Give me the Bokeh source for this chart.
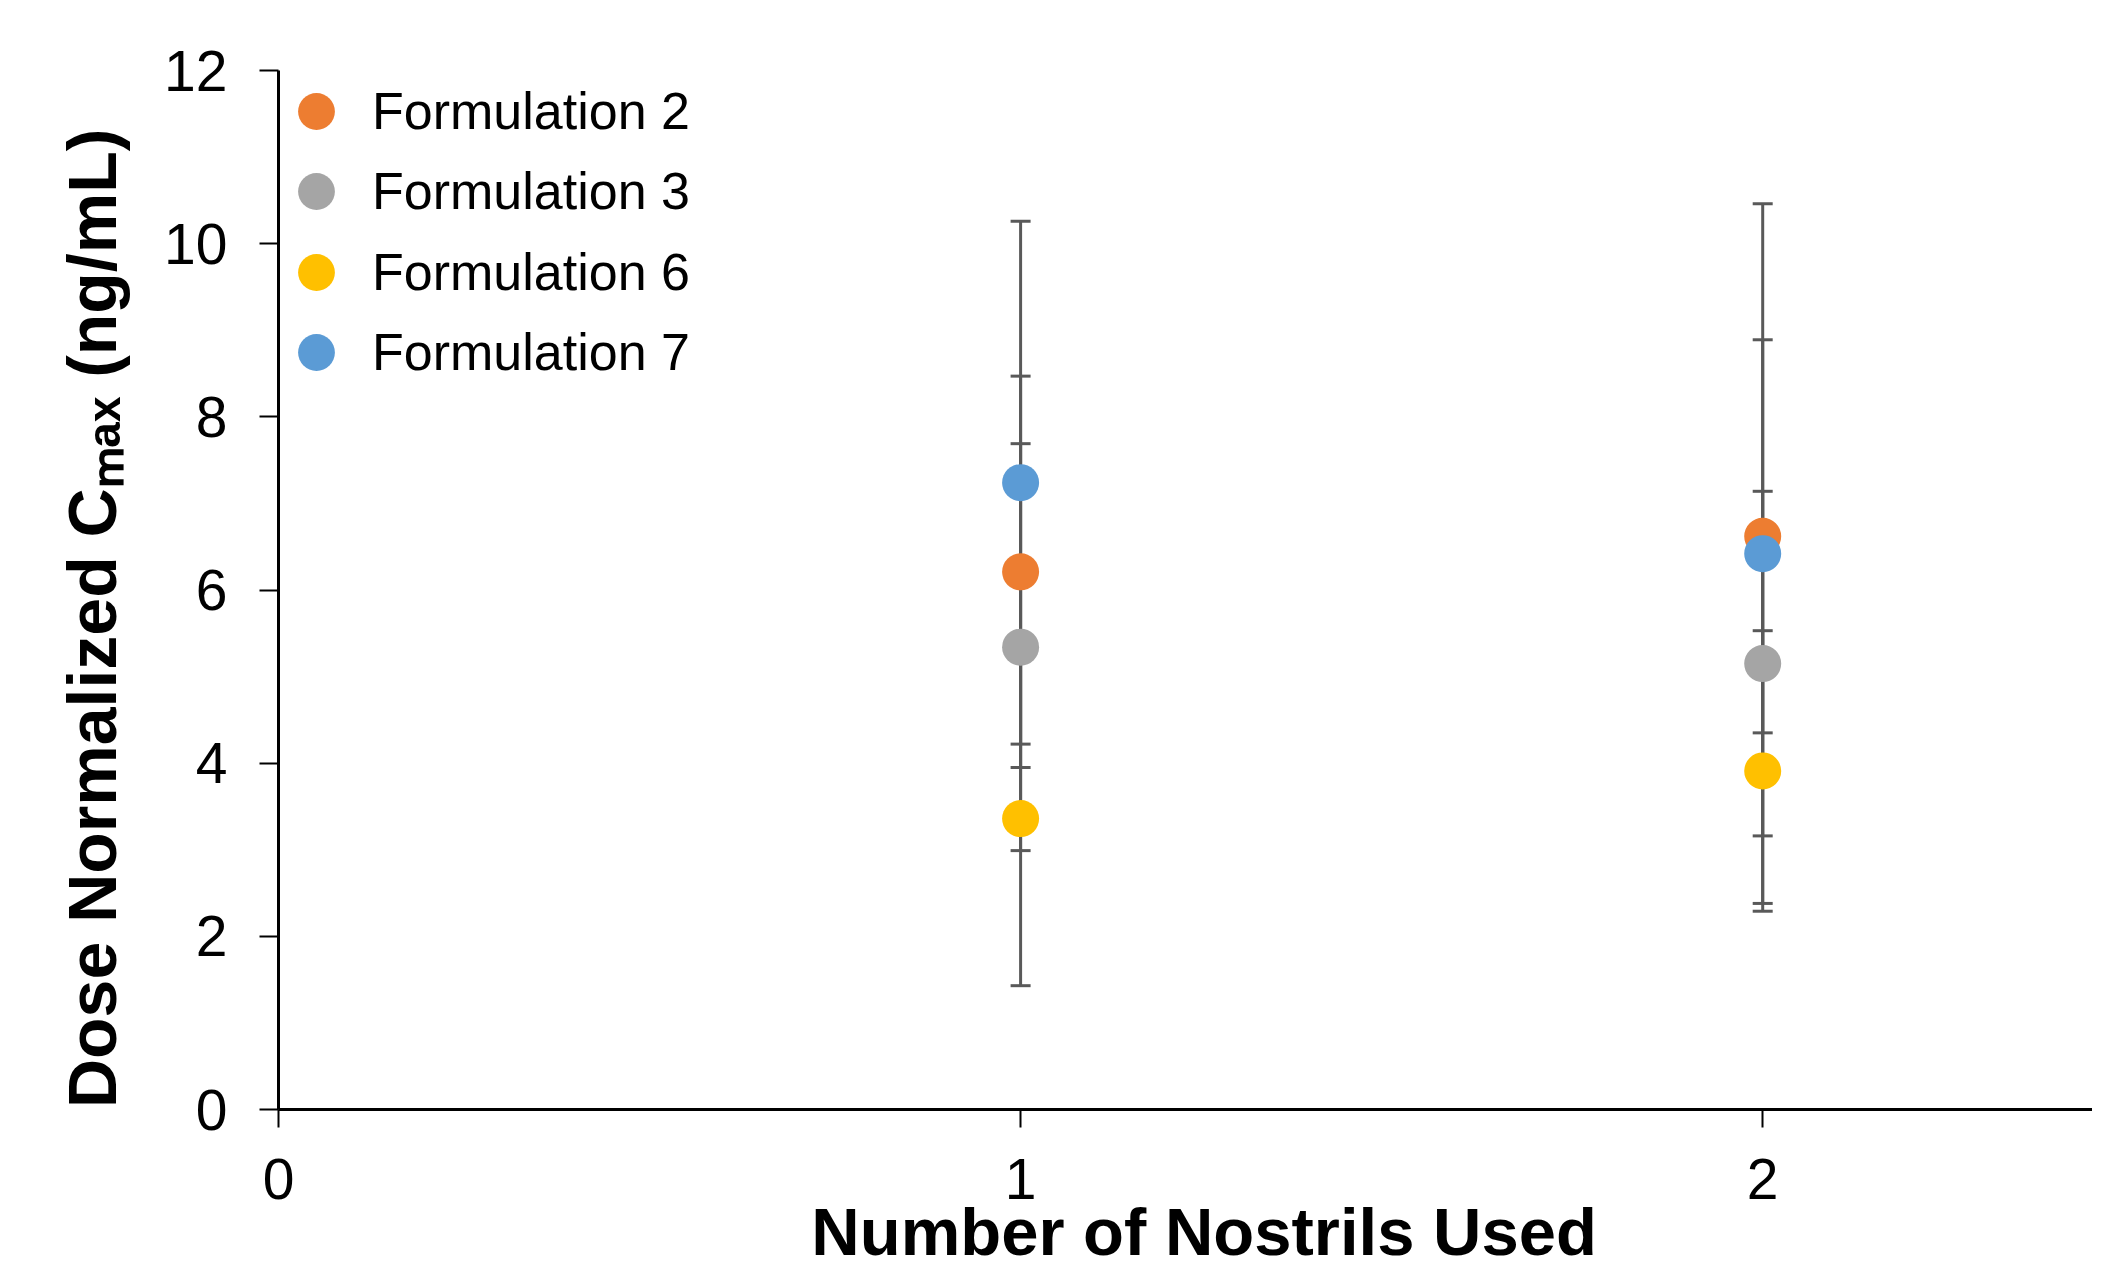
from bokeh.plotting import figure
from bokeh.models import (ColumnDataSource, Whisker, TeeHead, Range1d, FixedTicker,
                          Legend, LegendItem)
from bokeh.embed import file_html
from bokeh.resources import INLINE

# ---- data ----
nostrils = [1, 2]
series_names = ["Formulation 2", "Formulation 3", "Formulation 6", "Formulation 7"]
series_colors = ["#ED7D31", "#A5A5A5", "#FFC000", "#5B9BD5"]
f2_mean = [6.21, 6.62]
f2_err = [2.26, 2.27]
f3_mean = [5.34, 5.15]
f3_err = [2.35, 1.99]
f6_mean = [3.36, 3.91]
f6_err = [1.93, 1.62]
f7_mean = [7.24, 6.42]
f7_err = [3.02, 4.04]
x_ticks = [0, 1, 2]
y_ticks = [0, 2, 4, 6, 8, 10, 12]
x_title = "Number of Nostrils Used"
y_title = "Dose Normalized C\u2098\u2090\u2093 (ng/mL)"

means = [f2_mean, f3_mean, f6_mean, f7_mean]
errs = [f2_err, f3_err, f6_err, f7_err]

W, H = 2092, 1271
LEFT, RIGHT, TOP, BOTTOM = 278, 0, 70, 161
px_per_x = 742.1
x_end = (W - LEFT - RIGHT) / px_per_x

FONT = "Liberation Sans"
NBSP = "\u00a0"

p = figure(width=W, height=H, output_backend="svg", toolbar_location=None,
           x_range=Range1d(0, x_end), y_range=Range1d(0, 12),
           min_border_left=LEFT, min_border_right=RIGHT,
           min_border_top=TOP, min_border_bottom=BOTTOM)
p.outline_line_color = None
p.xgrid.visible = False
p.ygrid.visible = False
p.background_fill_color = "white"
p.border_fill_color = "white"

for ax, ticks, tick_out, standoff in ((p.xaxis[0], x_ticks, 18, 31), (p.yaxis[0], y_ticks, 19, 32)):
    ax.ticker = FixedTicker(ticks=ticks)
    ax.axis_line_color = "black"
    ax.axis_line_width = 3
    ax.major_tick_line_color = "black"
    ax.major_tick_line_width = 2
    ax.major_tick_out = tick_out
    ax.major_tick_in = 0
    ax.minor_tick_line_color = None
    ax.major_label_text_font = FONT
    ax.major_label_text_font_size = "57px"
    ax.major_label_text_color = "black"
    ax.major_label_standoff = standoff
    ax.axis_label_text_font = FONT
    ax.axis_label_text_font_style = "bold"
    ax.axis_label_text_color = "black"

# the reference centres the x title on its full (cropped) 0-2.5 range, a little right of our frame centre
p.xaxis[0].axis_label = NBSP * 2 + x_title
p.xaxis[0].axis_label_text_font_size = "67px"
p.xaxis[0].axis_label_standoff = -8
# the reference's y title sits slightly below the frame centre
p.yaxis[0].axis_label = y_title + NBSP * 3
p.yaxis[0].axis_label_text_font_size = "68px"
p.yaxis[0].axis_label_standoff = 31

# error bars
for m, e in zip(means, errs):
    src = ColumnDataSource(dict(x=nostrils,
                                lo=[a - b for a, b in zip(m, e)],
                                hi=[a + b for a, b in zip(m, e)]))
    w = Whisker(source=src, base="x", lower="lo", upper="hi",
                line_color="#595959", line_width=3,
                upper_head=TeeHead(size=20, line_color="#595959", line_width=3),
                lower_head=TeeHead(size=20, line_color="#595959", line_width=3))
    p.add_layout(w)

# markers, one single-entry legend per series (stacked top-left)
legend_vy = [952.5, 872, 791.5, 711]
for name, col, m, vy in zip(series_names, series_colors, means, legend_vy):
    r = p.scatter(x=nostrils, y=m, size=37, fill_color=col, line_color=None)
    lg = Legend(items=[LegendItem(label=name, renderers=[r])],
                location=(-8, vy), glyph_width=92, glyph_height=92,
                padding=0, margin=0, label_standoff=10,
                label_text_font=FONT, label_text_font_size="52px",
                label_text_color="black",
                background_fill_alpha=0, border_line_alpha=0)
    p.add_layout(lg)

open("out.html", "w").write(file_html(p, INLINE))
